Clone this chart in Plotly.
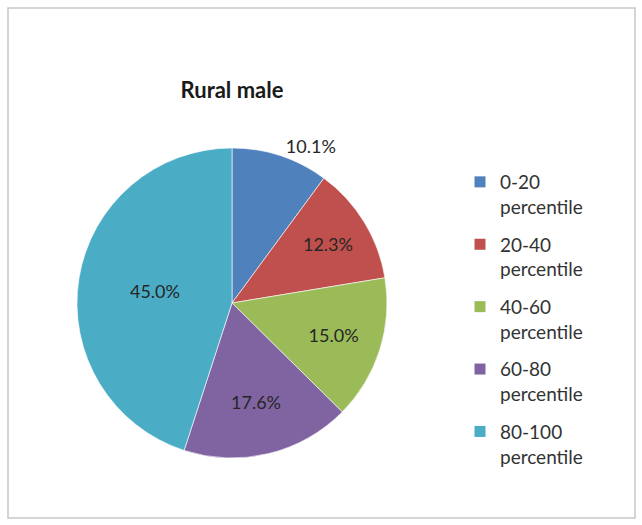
import plotly.graph_objects as go

categories = ["0-20<br>percentile", "20-40<br>percentile", "40-60<br>percentile",
              "60-80<br>percentile", "80-100<br>percentile"]
values = [10.1, 12.3, 15.0, 17.6, 45.0]
colors = ["#4F81BD", "#C0504D", "#9BBB59", "#8064A2", "#4BACC6"]
text_positions = ["outside", "inside", "inside", "inside", "inside"]

W, H = 642, 525
cx, cy, r = 232, 303, 155

fig = go.Figure()
fig.add_trace(go.Pie(
    labels=categories,
    values=values,
    sort=False,
    direction="clockwise",
    rotation=0,
    marker=dict(colors=colors, line=dict(color="rgba(255,255,255,0.6)", width=1)),
    texttemplate="%{percent:.1%}",
    textposition=text_positions,
    insidetextorientation="horizontal",
    textfont=dict(family="Lato", size=18, color="#262626"),
    domain=dict(x=[(cx - r) / W, (cx + r) / W], y=[(H - cy - r) / H, (H - cy + r) / H]),
    hoverinfo="label+percent",
    showlegend=False,
))

# legend entries (one group per slice so spacing can be tuned)
for name, col in zip(categories, colors):
    fig.add_trace(go.Scatter(
        x=[None], y=[None], mode="markers", name=name,
        legendgroup=name,
        marker=dict(symbol="square", size=11, color=col),
        hoverinfo="skip",
    ))

fig.update_layout(
    width=W, height=H,
    margin=dict(l=0, r=0, t=0, b=0),
    paper_bgcolor="white",
    plot_bgcolor="white",
    xaxis=dict(visible=False),
    yaxis=dict(visible=False),
    title=dict(text="<b>Rural male</b>", x=cx / W, xanchor="center",
               y=1 - 90 / H, yanchor="middle",
               font=dict(family="Lato", size=22, color="#1a1a1a")),
    legend=dict(x=460 / W, xanchor="left", y=1 - 163 / H, yanchor="top",
                font=dict(family="Lato", size=19, color="#333333"),
                valign="top", bgcolor="rgba(0,0,0,0)",
                tracegroupgap=10, traceorder="grouped"),
    showlegend=True,
    shapes=[dict(type="rect", xref="paper", yref="paper",
                 x0=8 / W, x1=635 / W, y0=1 - 518 / H, y1=1 - 8 / H,
                 line=dict(color="#c8c8c8", width=1.5))],
)

fig.write_html("out.html")
